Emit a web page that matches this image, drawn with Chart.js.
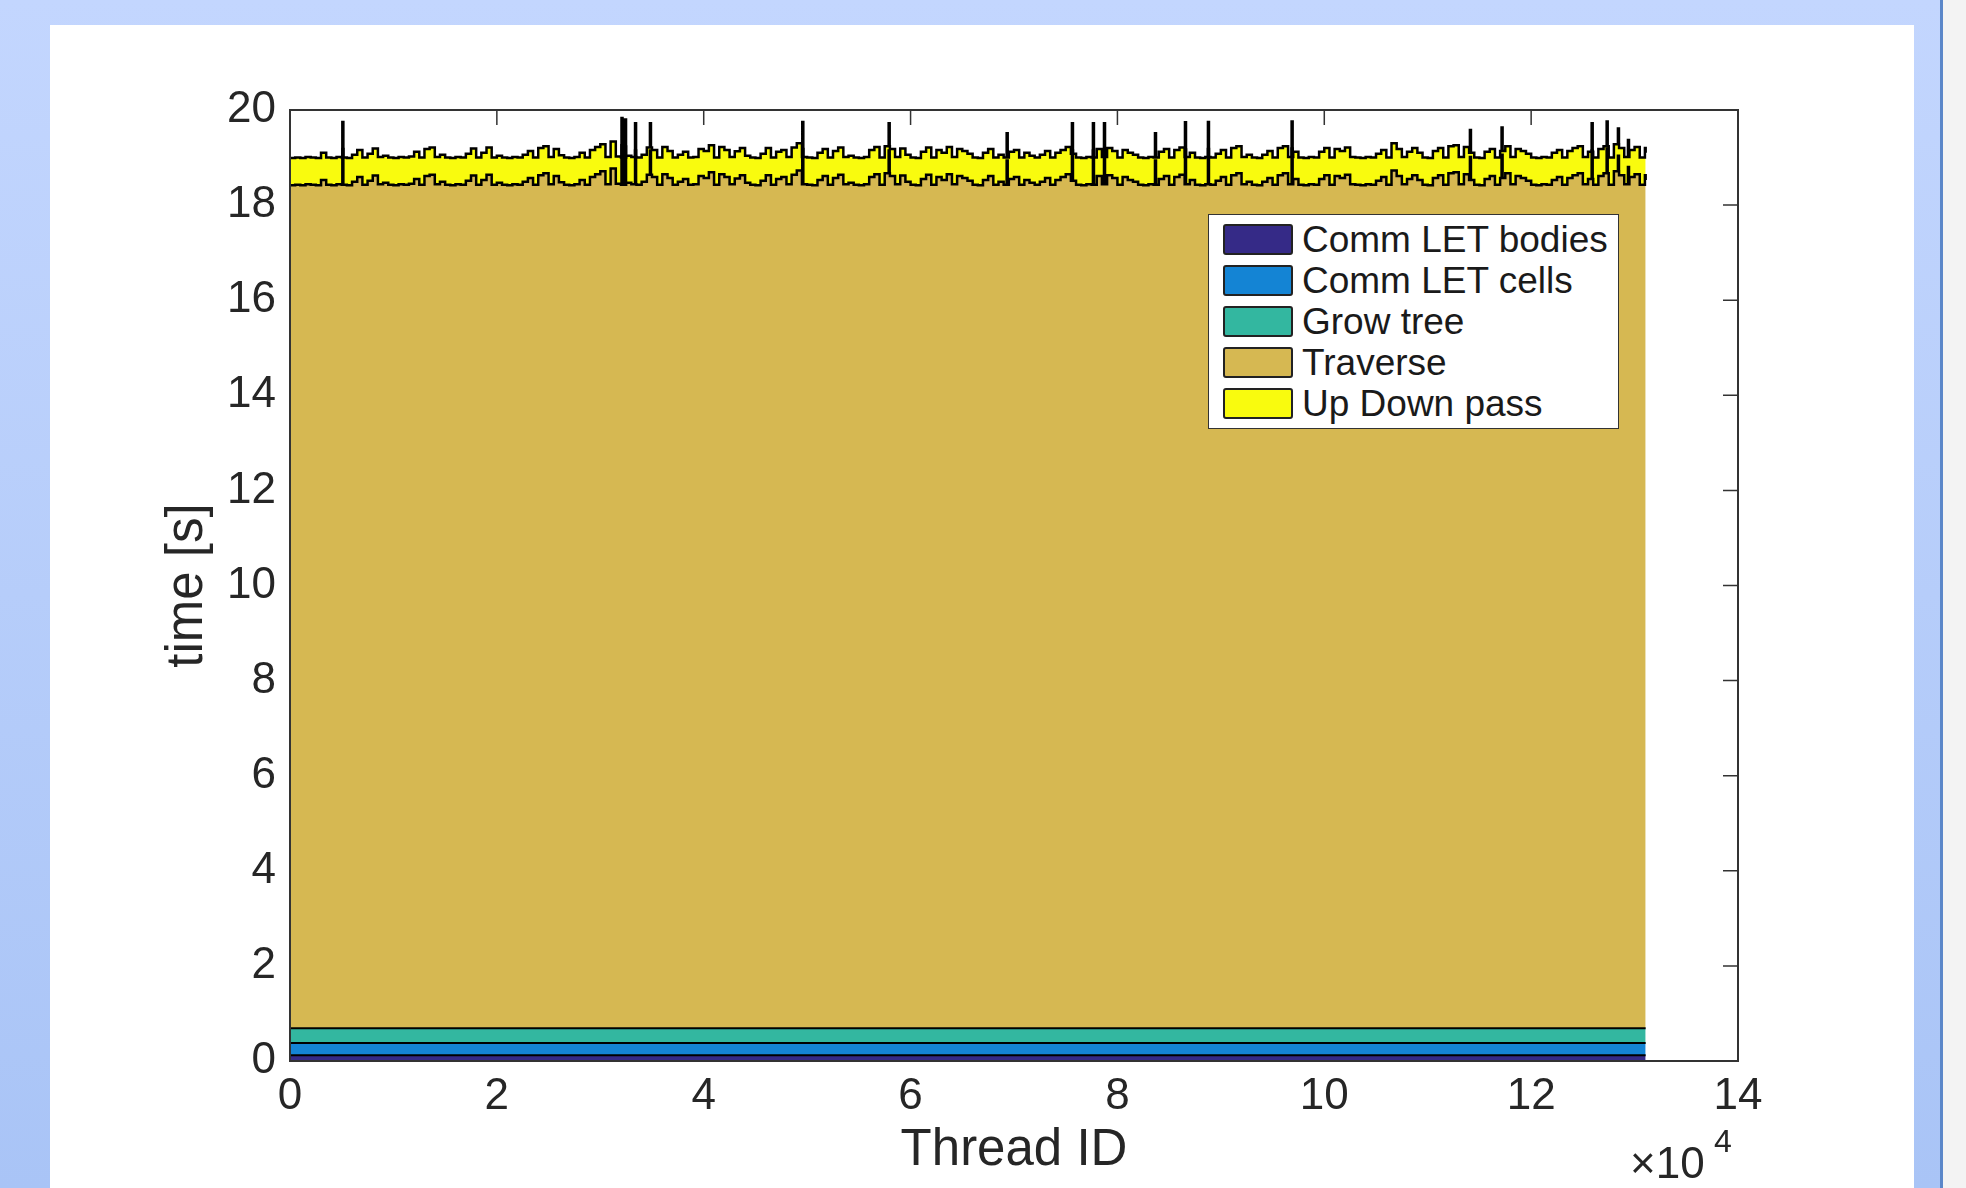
<!DOCTYPE html>
<html>
<head>
<meta charset="utf-8">
<script src="https://cdn.jsdelivr.net/npm/chart.js@4/dist/chart.umd.min.js"></script>
<style>
  body {
    margin: 0;
    width: 1966px;
    height: 1188px;
    overflow: hidden;
    background: linear-gradient(#c3d6fe, #a9c4f6);
    font-family: "Liberation Sans", Arial, sans-serif;
  }
  #panel {
    position: absolute;
    left: 50px;
    top: 25px;
    width: 1864px;
    height: 1163px;
    background: #fff;
  }
  #edge {
    position: absolute;
    left: 1940px;
    top: 0;
    width: 3px;
    height: 1188px;
    background: #5b87c9;
  }
  #outside {
    position: absolute;
    left: 1943px;
    top: 0;
    width: 23px;
    height: 1188px;
    background: #f3f3f3;
  }
  #legend {
    position: absolute;
    left: 1158px;
    top: 189px;
    width: 411px;
    height: 215px;
    box-sizing: border-box;
    border: 1.5px solid #333;
    background: #fff;
    padding: 4px 0 0 14px;
  }
  .row {
    display: flex;
    align-items: center;
    height: 41px;
    font-size: 37px;
    color: #1a1a1a;
  }
  .swatch {
    width: 66px;
    height: 27px;
    border: 2px solid #222;
    border-radius: 3px;
    margin-right: 9px;
  }
</style>
</head>
<body>
<div id="panel">
  <canvas id="chart" width="1864" height="1163"></canvas>
  <div id="legend"></div>
</div>
<div id="edge"></div>
<div id="outside"></div>
<script>
// layer times in seconds (flat layers read once, traverse read along the thread axis)
const commLetBodies = 0.12;
const commLetCells = 0.26;
const growTree = 0.31;
const upDownPass = 0.57;

const grassThreads = [
    0, 500, 1000, 1500, 2000, 2500, 3000, 3500, 4000, 4500, 5000, 5500, 6000, 6500, 7000, 7500, 8000, 8500, 9000, 9500,
    10000, 10500, 11000, 11500, 12000, 12500, 13000, 13500, 14000, 14500, 15000, 15500, 16000, 16500, 17000, 17500, 18000, 18500, 19000, 19500,
    20000, 20500, 21000, 21500, 22000, 22500, 23000, 23500, 24000, 24500, 25000, 25500, 26000, 26500, 27000, 27500, 28000, 28500, 29000, 29500,
    30000, 30500, 31000, 31500, 32000, 32500, 33000, 33500, 34000, 34500, 35000, 35500, 36000, 36500, 37000, 37500, 38000, 38500, 39000, 39500,
    40000, 40500, 41000, 41500, 42000, 42500, 43000, 43500, 44000, 44500, 45000, 45500, 46000, 46500, 47000, 47500, 48000, 48500, 49000, 49500,
    50000, 50500, 51000, 51500, 52000, 52500, 53000, 53500, 54000, 54500, 55000, 55500, 56000, 56500, 57000, 57500, 58000, 58500, 59000, 59500,
    60000, 60500, 61000, 61500, 62000, 62500, 63000, 63500, 64000, 64500, 65000, 65500, 66000, 66500, 67000, 67500, 68000, 68500, 69000, 69500,
    70000, 70500, 71000, 71500, 72000, 72500, 73000, 73500, 74000, 74500, 75000, 75500, 76000, 76500, 77000, 77500, 78000, 78500, 79000, 79500,
    80000, 80500, 81000, 81500, 82000, 82500, 83000, 83500, 84000, 84500, 85000, 85500, 86000, 86500, 87000, 87500, 88000, 88500, 89000, 89500,
    90000, 90500, 91000, 91500, 92000, 92500, 93000, 93500, 94000, 94500, 95000, 95500, 96000, 96500, 97000, 97500, 98000, 98500, 99000, 99500,
    100000, 100500, 101000, 101500, 102000, 102500, 103000, 103500, 104000, 104500, 105000, 105500, 106000, 106500, 107000, 107500, 108000, 108500, 109000, 109500,
    110000, 110500, 111000, 111500, 112000, 112500, 113000, 113500, 114000, 114500, 115000, 115500, 116000, 116500, 117000, 117500, 118000, 118500, 119000, 119500,
    120000, 120500, 121000, 121500, 122000, 122500, 123000, 123500, 124000, 124500, 125000, 125500, 126000, 126500, 127000, 127500, 128000, 128500, 129000, 129500,
    130000, 130500, 131000, 131072
];

const traverseTime = [
    17.73, 17.74, 17.73, 17.75, 17.74, 17.73, 17.84, 17.74, 17.73, 17.75,
    17.74, 17.73, 17.80, 17.90, 17.74, 17.82, 17.93, 17.75, 17.78, 17.74,
    17.73, 17.75, 17.74, 17.76, 17.86, 17.74, 17.92, 17.95, 17.75, 17.80,
    17.74, 17.73, 17.75, 17.74, 17.82, 17.93, 17.74, 17.84, 17.95, 17.74,
    17.78, 17.74, 17.73, 17.75, 17.74, 17.80, 17.88, 17.74, 17.94, 17.98,
    17.75, 17.92, 17.79, 17.74, 17.73, 17.75, 17.84, 17.74, 17.90, 17.96,
    18.02, 17.75, 18.08, 17.76, 17.74, 17.78, 17.75, 17.74, 17.80, 17.95,
    17.90, 17.74, 17.96, 17.88, 17.74, 17.80, 17.86, 17.74, 17.75, 17.92,
    17.88, 18.00, 17.74, 17.96, 17.90, 17.75, 17.87, 17.94, 17.78, 17.74,
    17.73, 17.82, 17.94, 17.74, 17.86, 17.90, 17.75, 17.95, 18.04, 17.75,
    17.74, 17.73, 17.84, 17.92, 17.74, 17.88, 17.95, 17.75, 17.78, 17.74,
    17.73, 17.75, 17.90, 17.96, 17.74, 17.98, 17.92, 17.75, 17.93, 17.80,
    17.74, 17.73, 17.86, 17.95, 17.74, 17.90, 17.84, 17.96, 17.75, 17.92,
    17.88, 17.82, 17.74, 17.73, 17.84, 17.92, 17.74, 17.80, 17.74, 17.86,
    17.90, 17.74, 17.84, 17.78, 17.74, 17.80, 17.88, 17.74, 17.84, 17.90,
    17.96, 17.82, 17.74, 17.73, 17.75, 17.74, 17.92, 17.75, 17.94, 17.88,
    17.74, 17.90, 17.84, 17.80, 17.74, 17.73, 17.75, 17.74, 17.86, 17.92,
    17.74, 17.90, 17.95, 17.75, 17.84, 17.74, 17.73, 17.75, 17.74, 17.82,
    17.90, 17.74, 17.94, 17.98, 17.75, 17.80, 17.74, 17.73, 17.80, 17.88,
    17.74, 17.94, 17.98, 17.75, 17.86, 17.74, 17.73, 17.75, 17.74, 17.86,
    17.94, 17.74, 17.92, 17.88, 17.95, 17.75, 17.74, 17.73, 17.75, 17.74,
    17.82, 17.90, 17.74, 18.04, 17.92, 17.75, 17.86, 17.94, 17.84, 17.74,
    17.73, 17.88, 17.94, 17.74, 17.98, 18.00, 17.75, 17.96, 17.84, 17.74,
    17.73, 17.86, 17.92, 17.74, 17.88, 17.98, 17.75, 17.92, 17.88, 17.82,
    17.74, 17.73, 17.75, 17.74, 17.84, 17.90, 17.74, 17.88, 17.94, 17.98,
    17.75, 17.86, 17.74, 17.92, 17.98, 17.74, 18.02, 17.94, 17.75, 17.90,
    17.96, 17.74, 17.94, 17.84
];

// single slow threads (traverse time at the spike)
const spikeThreads = [5060, 32050, 32390, 33360, 34800, 49530, 57880, 69290, 75600, 77630, 78700,
    83630, 86530, 88750, 96840, 114080, 117140, 125850, 127300, 128390, 129360];
const spikeTraverse = [18.49, 18.57, 18.54, 18.46, 18.46, 18.49, 18.46, 18.25, 18.46, 18.46, 18.46,
    18.25, 18.48, 18.49, 18.50, 18.32, 18.37, 18.46, 18.50, 18.35, 18.11];

const xTicks = [0, 20000, 40000, 60000, 80000, 100000, 120000, 140000];
const yTicks = [0, 2, 4, 6, 8, 10, 12, 14, 16, 18, 20];

const SPIKE_W = 100;
const FONT = '"Liberation Sans", Arial, sans-serif';
const INK = "#262626";

// merge spikes into the sampled thread axis; after a spike the sampled value holds again
const table = grassThreads.map((t, i) => ({ t, v: traverseTime[i] }));
spikeThreads.forEach((t, k) => {
    let j = 0;
    while (j + 1 < grassThreads.length && grassThreads[j + 1] <= t) j++;
    table.push({ t, v: spikeTraverse[k] });
    table.push({ t: t + SPIKE_W, v: traverseTime[j] });
});
table.sort((a, b) => a.t - b.t);

const threadIds = table.map(r => r.t);
const traverseSeries = table.map(r => r.v);

function layer(label, color, values, fill, width) {
    return {
        label,
        backgroundColor: color,
        borderWidth: width,
        fill,
        data: threadIds.map((x, i) => ({ x, y: Array.isArray(values) ? values[i] : values }))
    };
}

const frame = {
    id: "frame",
    beforeDatasetsDraw(chart) {
        const { ctx, chartArea: a, scales } = chart;
        ctx.save();
        ctx.strokeStyle = "#333";
        ctx.lineWidth = 1.5;
        ctx.beginPath();
        xTicks.forEach(v => {
            const px = scales.x.getPixelForValue(v);
            ctx.moveTo(px, a.bottom); ctx.lineTo(px, a.bottom - 15);
            ctx.moveTo(px, a.top); ctx.lineTo(px, a.top + 15);
        });
        yTicks.forEach(v => {
            const py = scales.y.getPixelForValue(v);
            ctx.moveTo(a.left, py); ctx.lineTo(a.left + 15, py);
            ctx.moveTo(a.right, py); ctx.lineTo(a.right - 15, py);
        });
        ctx.stroke();
        ctx.restore();
    },
    afterDatasetsDraw(chart) {
        const { ctx, chartArea: a } = chart;
        ctx.save();
        ctx.strokeStyle = "#333";
        ctx.lineWidth = 2;
        ctx.strokeRect(a.left, a.top, a.right - a.left, a.bottom - a.top);
        ctx.restore();
    },
    afterDraw(chart) {
        const { ctx } = chart;
        ctx.save();
        ctx.fillStyle = INK;
        ctx.textBaseline = "alphabetic";
        ctx.font = "44px " + FONT;
        ctx.fillText("\u00d710", 1580, 1153);
        ctx.font = "32px " + FONT;
        ctx.fillText("4", 1664, 1127);
        ctx.restore();
    }
};

Chart.defaults.font.family = FONT;
Chart.defaults.color = INK;

const chart = new Chart(document.getElementById("chart"), {
    type: "line",
    data: {
        datasets: [
            layer("Comm LET bodies", "#352a87", commLetBodies, "origin", 2),
            layer("Comm LET cells", "#1484d4", commLetCells, "-1", 2),
            layer("Grow tree", "#33b7a0", growTree, "-1", 2),
            layer("Traverse", "#d6b852", traverseSeries, "-1", 2.5),
            layer("Up Down pass", "#f9fb0e", upDownPass, "-1", 2.5)
        ]
    },
    options: {
        animation: false,
        responsive: false,
        devicePixelRatio: 1,
        layout: { padding: { left: 0, top: 85, right: 176, bottom: 0 } },
        elements: {
            point: { radius: 0 },
            line: { borderColor: "#000", stepped: true, tension: 0 }
        },
        plugins: { legend: { display: false }, tooltip: { enabled: false } },
        scales: {
            x: {
                type: "linear",
                min: 0,
                max: 140000,
                grid: { display: false, drawTicks: false },
                border: { display: false },
                ticks: {
                    stepSize: 20000,
                    padding: 9,
                    maxRotation: 0,
                    autoSkip: false,
                    font: { size: 44 },
                    callback: v => v / 1e4
                },
                title: { display: true, text: "Thread ID", font: { size: 51 }, padding: { top: 0, bottom: 6 } },
                afterFit: s => { s.height = 127; }
            },
            y: {
                stacked: true,
                min: 0,
                max: 20,
                grid: { display: false, drawTicks: false },
                border: { display: false },
                ticks: { stepSize: 2, padding: 14, font: { size: 44 } },
                title: { display: true, text: "time [s]", font: { size: 51 }, padding: { top: 107, bottom: 0 } },
                afterFit: s => { s.width = 240; }
            }
        }
    },
    plugins: [frame]
});

document.getElementById("legend").innerHTML = chart.data.datasets.map(d => `
    <div class="row"><div class="swatch" style="background:${d.backgroundColor}"></div>${d.label}</div>
`).join("");
</script>
</body>
</html>
